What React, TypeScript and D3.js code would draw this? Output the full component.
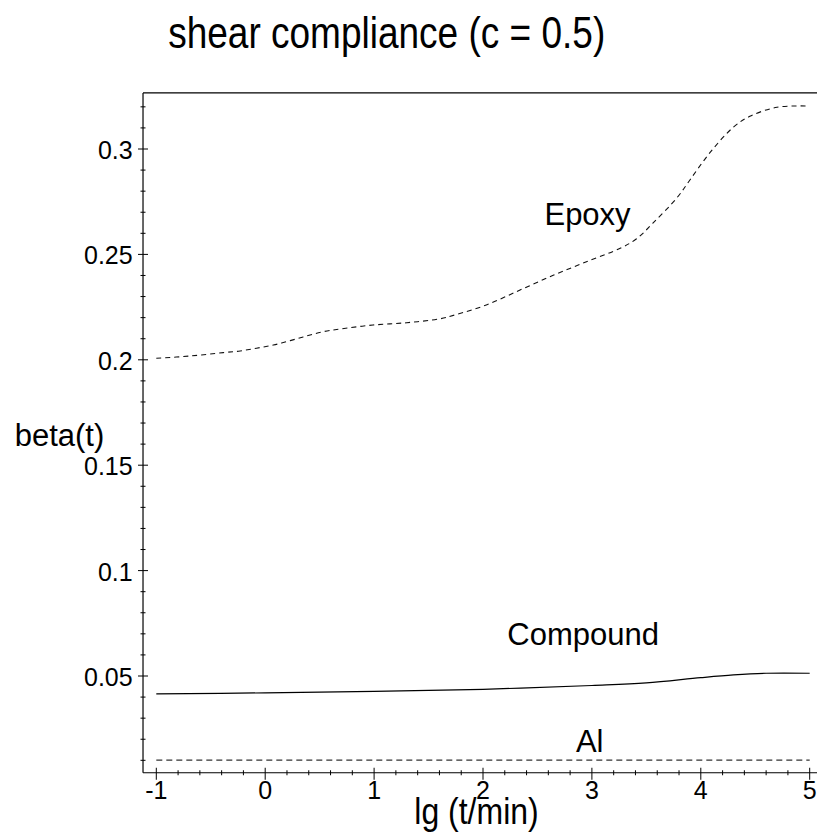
import React from "react";
import * as d3 from "d3";

const title = "shear compliance (c = 0.5)";
const xLabel = "lg (t/min)";
const yLabel = "beta(t)";

const xTicks = [-1, 0, 1, 2, 3, 4, 5];
const yTicks = [0.05, 0.1, 0.15, 0.2, 0.25, 0.3];
const yTickLabels = ["0.05", "0.1", "0.15", "0.2", "0.25", "0.3"];

const epoxyX = [-1, -0.69, -0.385, -0.23, -0.08, 0.075, 0.23, 0.38, 0.53, 0.69, 0.99, 1.3, 1.6, 1.75, 2.03, 2.34, 2.65, 2.95, 3.26, 3.41, 3.56, 3.78, 3.9, 4.08, 4.3, 4.45, 4.7, 5.0];
const epoxyY = [0.2007, 0.2018, 0.2034, 0.2042, 0.2055, 0.207, 0.2091, 0.2113, 0.2133, 0.2146, 0.2165, 0.2176, 0.2194, 0.2214, 0.226, 0.2331, 0.2402, 0.2465, 0.2529, 0.2574, 0.2648, 0.2768, 0.2853, 0.298, 0.3104, 0.3155, 0.3198, 0.3204];

const compoundX = [-1, 0, 1, 2, 3, 3.5, 4, 4.3, 4.6, 5];
const compoundY = [0.0415, 0.042, 0.0427, 0.0437, 0.0455, 0.0467, 0.0492, 0.0505, 0.0513, 0.0513];

const alX = [-1, 5];
const alY = [0.0101, 0.0101];

const labels = [
  { text: "Epoxy", x: 2.96, y: 0.264 },
  { text: "Compound", x: 2.92, y: 0.0647 },
  { text: "Al", x: 2.98, y: 0.0141 },
];

const W = 817;
const H = 838;
const font = "'Liberation Sans', Arial, Helvetica, sans-serif";

export default function App() {
  const x = d3.scaleLinear().domain([-1, 5]).range([156.3, 809.7]);
  const y = d3.scaleLinear().domain([0.05, 0.3]).range([676, 149]);
  const xLo = -1.122, xHi = 5.07;
  const yLo = 0.0041, yHi = 0.3266;

  const line = d3
    .line<[number, number]>()
    .x((d) => x(d[0]))
    .y((d) => y(d[1]))
    .curve(d3.curveCatmullRom.alpha(0.5));

  const epoxy = epoxyX.map((v, i) => [v, epoxyY[i]] as [number, number]);
  const compound = compoundX.map((v, i) => [v, compoundY[i]] as [number, number]);
  const al = alX.map((v, i) => [v, alY[i]] as [number, number]);

  const xMinor = d3.range(-1, 5.0001, 0.2).filter((v) => Math.abs(v - Math.round(v)) > 1e-6);
  const yMinor = d3.range(0.01, 0.3201, 0.01).filter((v) => Math.abs(v * 20 - Math.round(v * 20)) > 1e-6);

  const axisY = y(yLo);
  const axisX = x(xLo);

  return (
    <svg width={W} height={H} style={{ position: "absolute", left: 0, top: 0, background: "#fff" }} fontFamily={font}>
      <rect x={0} y={0} width={W} height={H} fill="#fff" />
      <text
        transform={`translate(386.7,48) scale(1,1.18)`}
        textAnchor="middle"
        fontSize={37}
        textLength={437}
        lengthAdjust="spacingAndGlyphs"
        fill="#000"
      >
        {title}
      </text>

      <line x1={axisX} x2={x(xHi)} y1={y(yHi)} y2={y(yHi)} stroke="#000" strokeWidth={1.2} />
      <line x1={axisX} x2={x(xHi)} y1={axisY} y2={axisY} stroke="#000" strokeWidth={1.2} />
      <line x1={axisX} x2={axisX} y1={y(yHi)} y2={axisY} stroke="#000" strokeWidth={1.2} />

      {xTicks.map((t) => (
        <g key={"xt" + t}>
          <line x1={x(t)} x2={x(t)} y1={axisY - 5} y2={axisY + 7} stroke="#000" strokeWidth={1} />
          <text x={x(t)} y={799} textAnchor="middle" fontSize={25} fill="#000">
            {String(t)}
          </text>
        </g>
      ))}
      {xMinor.map((t, i) => (
        <line key={"xm" + i} x1={x(t)} x2={x(t)} y1={axisY - 2.5} y2={axisY + 2.5} stroke="#000" strokeWidth={1} />
      ))}

      {yTicks.map((t, i) => (
        <g key={"yt" + t}>
          <line x1={axisX - 5} x2={axisX + 5} y1={y(t)} y2={y(t)} stroke="#000" strokeWidth={1} />
          <text x={132.7} y={y(t) + 10} textAnchor="end" fontSize={25} fill="#000">
            {yTickLabels[i]}
          </text>
        </g>
      ))}
      {yMinor.map((t, i) => (
        <line key={"ym" + i} x1={axisX - 2.5} x2={axisX + 2.5} y1={y(t)} y2={y(t)} stroke="#000" strokeWidth={1} />
      ))}

      <path d={line(epoxy) || ""} fill="none" stroke="#111" strokeWidth={1.1} strokeDasharray="5,4" />
      <path d={line(compound) || ""} fill="none" stroke="#000" strokeWidth={1.2} />
      <path d={line(al) || ""} fill="none" stroke="#333" strokeWidth={1.1} strokeDasharray="6,4" />

      {labels.map((l) => (
        <text key={l.text} x={x(l.x)} y={y(l.y)} textAnchor="middle" fontSize={31} fill="#000">
          {l.text}
        </text>
      ))}

      <text transform="translate(476.5,824) scale(1,1.18)" textAnchor="middle" fontSize={32} fill="#000">
        {xLabel}
      </text>
      <text x={59.5} y={446} textAnchor="middle" fontSize={31} fill="#000">
        {yLabel}
      </text>
    </svg>
  );
}
